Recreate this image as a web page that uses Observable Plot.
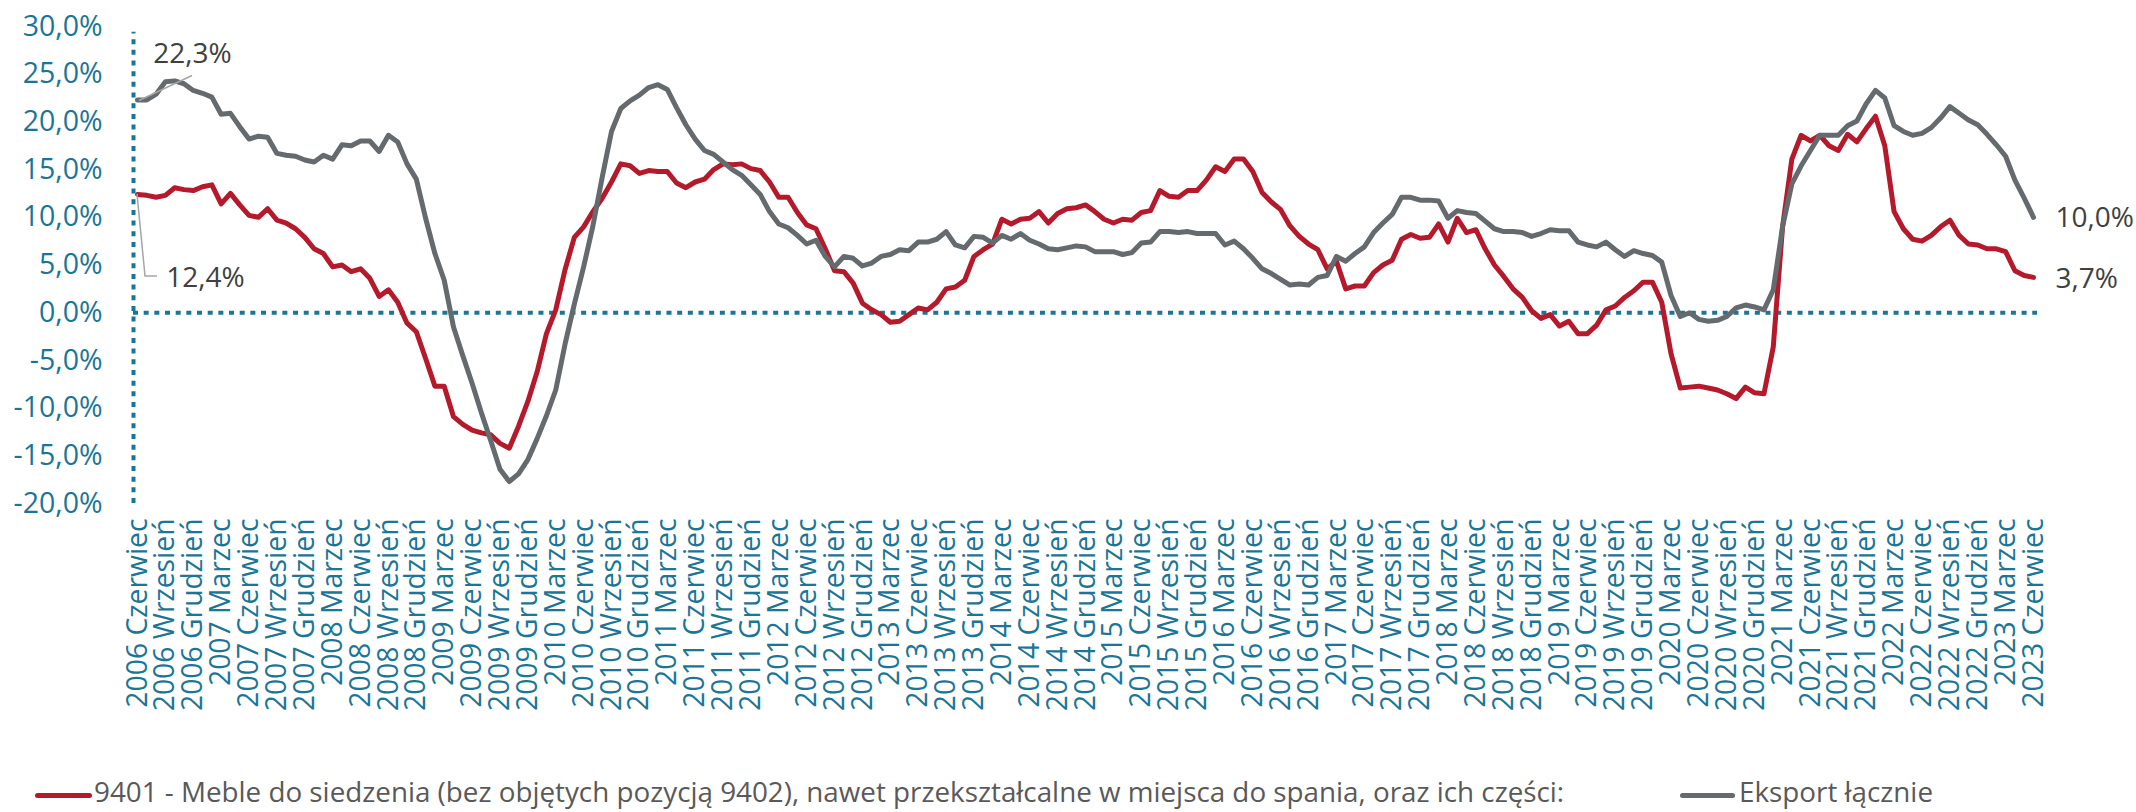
<!DOCTYPE html>
<html>
<head>
<meta charset="utf-8">
<script src="https://cdn.jsdelivr.net/npm/d3@7"></script>
<script src="https://cdn.jsdelivr.net/npm/@observablehq/plot@0.6"></script>
<style>
  html, body { margin: 0; padding: 0; background: #fff; }
  #wrap { position: relative; width: 2136px; height: 812px; overflow: hidden; font-family: "Open Sans", sans-serif; }
  #chart { position: absolute; left: 0; top: 0; }
  .sw { position: absolute; height: 5px; border-radius: 3px; }
  .lt { position: absolute; font-size: 27.8px; line-height: 30px; color: #595959; white-space: nowrap; }
</style>
</head>
<body>
<div id="wrap">
  <div id="chart"></div>
  <div class="sw" id="sw1"></div><div class="lt" id="lt1"></div>
  <div class="sw" id="sw2"></div><div class="lt" id="lt2"></div>
</div>
<script>
// ---- data ----
const startYear = 2006;
const startMonthIndex = 5; // June
const monthNames = ["Styczeń", "Luty", "Marzec", "Kwiecień", "Maj", "Czerwiec", "Lipiec", "Sierpień", "Wrzesień", "Październik", "Listopad", "Grudzień"];
const categories = Array.from({length: 205}, (_, i) => {
  const k = startMonthIndex + i;
  return `${startYear + Math.floor(k / 12)} ${monthNames[k % 12]}`;
});
const tickLabels = categories.filter((_, i) => i % 3 === 0);

const seriesNames = [
  "9401 - Meble do siedzenia (bez objętych pozycją 9402), nawet przekształcalne w miejsca do spania, oraz ich części:",
  "Eksport łącznie"
];

const meble = [
  12.4, 12.3, 12.1, 12.3, 13.1, 12.9, 12.8, 13.2, 13.4, 11.4,
  12.5, 11.3, 10.2, 10.0, 10.9, 9.7, 9.4, 8.8, 7.9, 6.7,
  6.2, 4.8, 5.0, 4.3, 4.6, 3.6, 1.7, 2.4, 1.1, -1.1,
  -2.0, -4.8, -7.7, -7.7, -10.9, -11.7, -12.3, -12.6, -12.8, -13.7,
  -14.2, -11.9, -9.3, -6.2, -2.2, 0.3, 4.5, 7.9, 9.0, 10.6,
  12.0, 13.7, 15.6, 15.4, 14.6, 14.9, 14.8, 14.8, 13.6, 13.1,
  13.7, 14.0, 15.0, 15.6, 15.5, 15.6, 15.1, 14.9, 13.7, 12.1,
  12.1, 10.5, 9.2, 8.8, 6.7, 4.4, 4.3, 3.1, 1.0, 0.3,
  -0.2, -1.0, -0.9, -0.2, 0.5, 0.3, 1.1, 2.5, 2.7, 3.4,
  5.9, 6.6, 7.2, 9.8, 9.3, 9.8, 9.9, 10.6, 9.4, 10.4,
  10.9, 11.0, 11.3, 10.6, 9.8, 9.4, 9.8, 9.7, 10.5, 10.7,
  12.8, 12.2, 12.1, 12.8, 12.8, 13.9, 15.3, 14.8, 16.1, 16.1,
  14.8, 12.6, 11.6, 10.8, 9.1, 8.0, 7.2, 6.6, 4.6, 5.4,
  2.5, 2.8, 2.8, 4.2, 5.0, 5.5, 7.7, 8.2, 7.8, 7.9,
  9.3, 7.4, 9.9, 8.4, 8.7, 6.7, 5.0, 3.8, 2.5, 1.6,
  0.2, -0.6, -0.2, -1.4, -0.9, -2.2, -2.2, -1.3, 0.3, 0.7,
  1.6, 2.3, 3.2, 3.2, 1.1, -4.3, -7.9, -7.8, -7.7, -7.9,
  -8.1, -8.5, -9.0, -7.8, -8.4, -8.5, -3.6, 9.0, 16.1, 18.6,
  18.0, 18.6, 17.5, 17.0, 18.7, 17.9, 19.3, 20.6, 17.5, 10.6,
  8.8, 7.7, 7.5, 8.1, 9.0, 9.7, 8.1, 7.2, 7.1, 6.7,
  6.7, 6.4, 4.4, 3.9, 3.7
];

const eksport = [
  22.3, 22.3, 22.9, 24.2, 24.3, 24.0, 23.3, 23.0, 22.6, 20.8,
  20.9, 19.5, 18.2, 18.5, 18.4, 16.7, 16.5, 16.4, 16.0, 15.8,
  16.5, 16.1, 17.6, 17.5, 18.0, 18.0, 16.9, 18.6, 17.9, 15.6,
  14.0, 9.9, 6.2, 3.4, -1.5, -4.5, -7.4, -10.5, -13.4, -16.4,
  -17.7, -16.9, -15.4, -13.2, -10.8, -8.1, -3.3, 0.9, 4.8, 9.1,
  14.2, 19.0, 21.4, 22.2, 22.8, 23.6, 23.9, 23.4, 21.5, 19.7,
  18.2, 17.0, 16.6, 15.8, 15.0, 14.4, 13.4, 12.4, 10.6, 9.3,
  8.9, 8.1, 7.2, 7.6, 5.9, 4.8, 5.9, 5.7, 4.9, 5.2,
  5.9, 6.1, 6.6, 6.5, 7.4, 7.4, 7.7, 8.5, 7.1, 6.8,
  8.0, 7.9, 7.3, 8.1, 7.7, 8.3, 7.6, 7.2, 6.7, 6.6,
  6.8, 7.0, 6.9, 6.4, 6.4, 6.4, 6.1, 6.3, 7.3, 7.4,
  8.5, 8.5, 8.4, 8.5, 8.3, 8.3, 8.3, 7.1, 7.5, 6.7,
  5.7, 4.6, 4.1, 3.5, 2.9, 3.0, 2.9, 3.7, 3.9, 5.9,
  5.4, 6.2, 6.9, 8.4, 9.4, 10.3, 12.1, 12.1, 11.8, 11.8,
  11.7, 9.9, 10.7, 10.5, 10.4, 9.6, 8.8, 8.5, 8.5, 8.4,
  8.0, 8.3, 8.7, 8.6, 8.6, 7.4, 7.1, 6.9, 7.4, 6.6,
  5.9, 6.5, 6.2, 6.0, 5.3, 1.8, -0.4, 0.0, -0.7, -0.9,
  -0.8, -0.4, 0.5, 0.8, 0.6, 0.3, 2.4, 9.0, 13.5, 15.4,
  17.0, 18.6, 18.6, 18.6, 19.6, 20.1, 21.9, 23.3, 22.5, 19.6,
  19.0, 18.6, 18.8, 19.4, 20.4, 21.6, 20.9, 20.2, 19.7, 18.7,
  17.6, 16.4, 13.9, 12.0, 10.0
];

const yTicks = [-20, -15, -10, -5, 0, 5, 10, 15, 20, 25, 30];

// ---- styles ----
const RED = "#b51a2c";
const GREY = "#646a6d";
const TEAL = "#1a7697";
const LABEL = "#404040";
const LEADER = "#a6a6a6";
const FONT = "Open Sans";

const fmt = v => v.toFixed(1).replace(".", ",") + "%";

const rows = [];
categories.forEach((c, i) => {
  rows.push({cat: c, value: meble[i], series: seriesNames[0]});
  rows.push({cat: c, value: eksport[i], series: seriesNames[1]});
});

const first = categories[0], last = categories[categories.length - 1];
const firstGrey = [{cat: first, value: eksport[0]}];
const firstRed = [{cat: first, value: meble[0]}];
const lastGrey = [{cat: last, value: eksport[eksport.length - 1]}];
const lastRed = [{cat: last, value: meble[meble.length - 1]}];

// leader lines, positioned through the library's scales
function leaders(index, scales) {
  const x0 = scales.x(first);
  const yG = scales.y(eksport[0]);
  const yR = scales.y(meble[0]);
  const ns = "http://www.w3.org/2000/svg";
  const g = document.createElementNS(ns, "g");
  g.setAttribute("fill", "none");
  g.setAttribute("stroke", LEADER);
  g.setAttribute("stroke-width", "1.5");
  const p1 = document.createElementNS(ns, "path");
  p1.setAttribute("d", `M${x0 + 2},${yG + 1}L${x0 + 55},${yG - 24}`);
  const p2 = document.createElementNS(ns, "path");
  p2.setAttribute("d", `M${x0},${yR}L${x0 + 8},${yR + 82}L${x0 + 20},${yR + 82}`);
  g.append(p1, p2);
  return g;
}

const chart = Plot.plot({
  width: 2136,
  height: 770,
  marginLeft: 137,
  marginRight: 103,
  marginTop: 26,
  marginBottom: 267,
  style: {fontFamily: FONT, background: "transparent", overflow: "visible"},
  x: {type: "point", domain: categories, padding: 0},
  y: {domain: [-20, 30]},
  color: {domain: seriesNames, range: [RED, GREY]},
  marks: [
    Plot.axisY({ticks: yTicks, tickFormat: fmt, tickSize: 0, tickPadding: 35, fontSize: 28.5, color: TEAL, label: null}),
    Plot.axisX({ticks: tickLabels, tickRotate: -90, tickSize: 0, tickPadding: 15, fontSize: 28.3, color: TEAL, label: null}),
    Plot.ruleY([0], {stroke: TEAL, strokeWidth: 4, strokeDasharray: "5,5.67", insetLeft: -4, insetRight: -4}),
    Plot.ruleX([first], {y1: -20, y2: 29.4, dx: -4, stroke: TEAL, strokeWidth: 4, strokeDasharray: "5,5.67"}),
    Plot.line(rows, {x: "cat", y: "value", z: "series", stroke: "series", strokeWidth: 5, strokeLinejoin: "round", strokeLinecap: "round"}),
    leaders,
    Plot.text(firstGrey, {x: "cat", y: "value", dx: 55, dy: -46, text: d => fmt(d.value), fontSize: 28, fill: LABEL, textAnchor: "middle"}),
    Plot.text(firstRed, {x: "cat", y: "value", dx: 68, dy: 84, text: d => fmt(d.value), fontSize: 28, fill: LABEL, textAnchor: "middle"}),
    Plot.text(lastGrey, {x: "cat", y: "value", dx: 22, dy: 1, text: d => fmt(d.value), fontSize: 28, fill: LABEL, textAnchor: "start"}),
    Plot.text(lastRed, {x: "cat", y: "value", dx: 22, dy: 2, text: d => fmt(d.value), fontSize: 28, fill: LABEL, textAnchor: "start"})
  ]
});
document.getElementById("chart").append(chart);

// ---- legend ----
const sw1 = document.getElementById("sw1");
Object.assign(sw1.style, {left: "35px", top: "793px", width: "57px", background: RED});
const lt1 = document.getElementById("lt1");
lt1.textContent = seriesNames[0];
Object.assign(lt1.style, {left: "94px", top: "776px"});
const sw2 = document.getElementById("sw2");
Object.assign(sw2.style, {left: "1680px", top: "793px", width: "55px", background: GREY});
const lt2 = document.getElementById("lt2");
lt2.textContent = seriesNames[1];
Object.assign(lt2.style, {left: "1739px", top: "776px"});
</script>
</body>
</html>
